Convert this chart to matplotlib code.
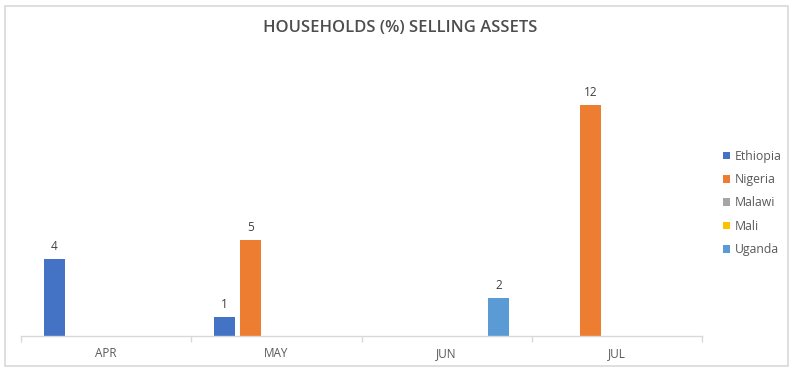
import matplotlib.pyplot as plt
from matplotlib.patches import Rectangle
import numpy as np

# data
months = ['APR', 'MAY', 'JUN', 'JUL']
countries = ['Ethiopia', 'Nigeria', 'Malawi', 'Mali', 'Uganda']
ethiopia = [4, 1, np.nan, np.nan]
nigeria = [np.nan, 5, np.nan, 12]
malawi = [np.nan, np.nan, np.nan, np.nan]
mali = [np.nan, np.nan, np.nan, np.nan]
uganda = [np.nan, np.nan, 2, np.nan]
series = [ethiopia, nigeria, malawi, mali, uganda]
colors = ['#4472C4', '#ED7D31', '#A5A5A5', '#FFC000', '#5B9BD5']

plt.rcParams['font.family'] = ['Open Sans', 'DejaVu Sans']

fig = plt.figure(figsize=(8, 3.72), dpi=100)
# outer chart frame
fig.patches.append(Rectangle((5 / 800, 6 / 372), 783 / 800, 360 / 372, transform=fig.transFigure,
                             fill=False, edgecolor='#d9d9d9', linewidth=1.2))

ax = fig.add_axes([21 / 800, 36 / 372, 681 / 800, 269.5 / 372])
x = np.arange(len(months))
width = 21 / 170
step = 26 / 170
for i, (vals, c) in enumerate(zip(series, colors)):
    pos = x + (i - 2) * step
    ax.bar(pos, vals, width=width, color=c, label=countries[i])
    for p, v in zip(pos, vals):
        if not np.isnan(v):
            ax.text(p, v + 0.3, str(int(v)), ha='center', va='bottom', fontsize=8.5, color='#404040')

ax.set_xlim(-0.5, 3.5)
ax.set_ylim(0, 14)
ax.set_yticks([])
for s in ['top', 'right', 'left']:
    ax.spines[s].set_visible(False)
ax.spines['bottom'].set_color('#d9d9d9')
ax.spines['bottom'].set_linewidth(1)
ax.set_xticks(x)
ax.set_xticklabels(months, fontsize=8.5, color='#595959')
ax.tick_params(axis='x', length=0, pad=8)
ax.set_xticks(np.arange(-0.5, 4, 1), minor=True)
ax.tick_params(axis='x', which='minor', length=4, color='#d9d9d9', width=1)

fig.text(400 / 800, 1 - 28 / 372, 'HOUSEHOLDS (%) SELLING ASSETS', ha='center', va='center',
         fontsize=12, fontweight='semibold', color='#4d4d4d')

handles, labels = ax.get_legend_handles_labels()
fig.legend(handles, labels, loc='center left', bbox_to_anchor=(712 / 800, 1 - 203 / 372),
           frameon=False, fontsize=8.8, labelcolor='#595959', handlelength=0.6, handleheight=0.6,
           handletextpad=0.35, labelspacing=0.85)

fig.savefig('out.png', dpi=100)
